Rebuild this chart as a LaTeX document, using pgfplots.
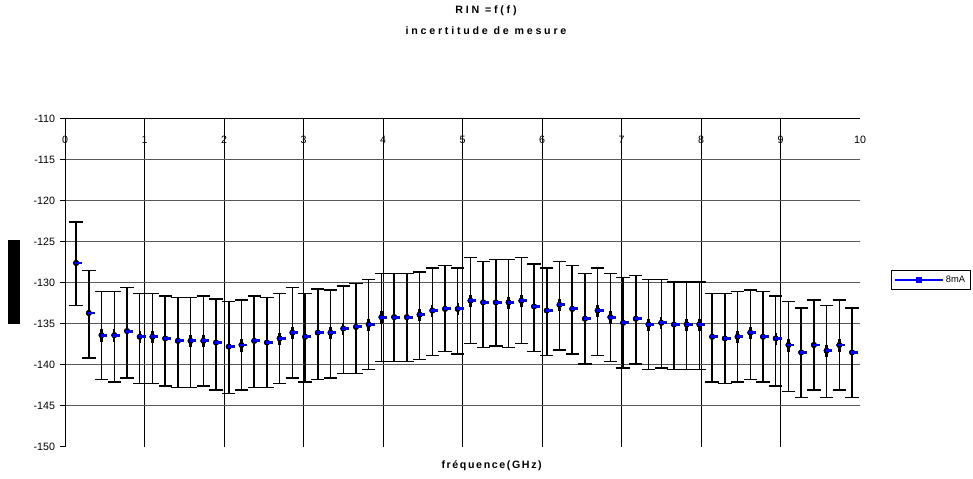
\documentclass[border=0pt]{standalone}
\usepackage{fontspec}
\setmainfont{Liberation Sans}
\newfontfamily\spaced[LetterSpace=15]{Liberation Sans}
\newfontfamily\wide[LetterSpace=26]{Liberation Sans}
\usepackage{pgfplots}
\usepackage{pgfplotstable}
\pgfplotsset{compat=1.18}

\pgfplotstableread{
x y top bot
0.14 -127.6 -122.6 -132.8
0.30 -133.7 -128.5 -139.2
0.46 -136.4 -131.1 -141.8
0.62 -136.4 -131.1 -142.1
0.78 -135.9 -130.6 -141.6
0.94 -136.6 -131.3 -142.3
1.10 -136.6 -131.3 -142.3
1.26 -136.8 -131.6 -142.6
1.42 -137.1 -131.8 -142.8
1.58 -137.1 -131.8 -142.8
1.74 -137.1 -131.6 -142.6
1.90 -137.3 -132.0 -143.1
2.06 -137.8 -132.3 -143.5
2.22 -137.6 -132.1 -143.1
2.38 -137.1 -131.6 -142.8
2.54 -137.3 -131.8 -142.8
2.70 -136.8 -131.3 -142.3
2.86 -136.1 -130.6 -141.6
3.02 -136.6 -131.3 -142.1
3.18 -136.1 -130.8 -141.8
3.34 -136.1 -130.9 -141.6
3.50 -135.6 -130.4 -141.1
3.66 -135.4 -130.1 -141.1
3.82 -135.1 -129.6 -140.6
3.98 -134.2 -128.9 -139.6
4.14 -134.2 -128.9 -139.6
4.30 -134.2 -128.9 -139.6
4.46 -133.9 -128.7 -139.4
4.62 -133.4 -128.2 -138.9
4.78 -133.2 -127.9 -138.4
4.94 -133.2 -128.2 -138.7
5.10 -132.2 -126.9 -137.4
5.26 -132.4 -127.4 -137.9
5.42 -132.4 -127.2 -137.7
5.58 -132.4 -127.2 -137.9
5.74 -132.2 -126.9 -137.4
5.90 -132.9 -127.7 -138.4
6.06 -133.4 -128.2 -138.9
6.22 -132.7 -127.4 -138.2
6.38 -133.2 -127.9 -138.7
6.54 -134.4 -128.9 -139.9
6.70 -133.4 -128.2 -138.9
6.86 -134.2 -128.9 -139.6
7.02 -134.9 -129.4 -140.4
7.18 -134.4 -129.1 -139.9
7.34 -135.1 -129.6 -140.6
7.50 -134.9 -129.6 -140.4
7.66 -135.1 -129.9 -140.6
7.82 -135.1 -129.9 -140.6
7.98 -135.1 -129.9 -140.6
8.14 -136.6 -131.3 -142.1
8.30 -136.8 -131.3 -142.3
8.46 -136.6 -131.1 -142.1
8.62 -136.1 -130.9 -141.8
8.78 -136.6 -131.1 -142.1
8.94 -136.8 -131.6 -142.6
9.10 -137.6 -132.3 -143.3
9.26 -138.5 -133.1 -144.0
9.42 -137.6 -132.1 -143.1
9.58 -138.3 -132.8 -144.0
9.74 -137.6 -132.1 -143.1
9.90 -138.5 -133.1 -144.0
}\rin

\begin{document}
\begin{tikzpicture}
\useasboundingbox (-48.75pt,-24.2pt) rectangle (681pt,335pt);
\begin{axis}[
  at={(0pt,0pt)}, anchor=south west,
  scale only axis, width=596.25pt, height=246pt,
  xmin=0, xmax=10, ymin=-150, ymax=-110,
  axis x line*=top, axis y line*=left,
  axis line style={black, line width=0.7pt},
  xtick={0,...,9}, extra x ticks={10}, extra x tick style={grid=none},
  ytick={-145,-140,...,-110}, extra y ticks={-150}, extra y tick style={grid=none},
  grid=major,
  x grid style={black, line width=0.6pt},
  y grid style={black!65, line width=0.7pt},
  xtick style={draw=none},
  ytick style={black, line width=0.6pt},
  tick align=outside, major tick length=4pt,
  /pgf/number format/assume math mode=true,
  tick label style={font=\fontsize{8}{9}\selectfont},
  xticklabel style={anchor=north, yshift=-13.75pt},
  legend style={at={(1.039,0.5386)}, anchor=north west, draw=black, line width=0.6pt,
    font=\fontsize{7}{8}\selectfont, inner xsep=2pt, inner ysep=2pt},
  legend image code/.code={
    \draw[blue, line width=0.9pt] (0pt,0pt) -- (36pt,0pt);
    \fill[blue] (16pt,-1.6pt) rectangle (20pt,1.6pt);
  },
]
% thick central segments
\addplot[black, only marks, mark=none, forget plot,
  error bars/.cd, y dir=both, y explicit, error mark=none,
  error bar style={line width=1.8pt, black}]
  table[x=x, y=y, y error plus expr=0.7, y error minus expr=0.8]{\rin};
% measurement uncertainty bars
\addplot[black, only marks, mark=none, forget plot,
  error bars/.cd, y dir=both, y explicit,
  error bar style={line width=1.1pt, black},
  error mark options={rotate=90, black, mark size=5pt, line width=1.1pt}]
  table[x=x, y=y, y error plus expr=\thisrow{top}-\thisrow{y},
        y error minus expr=\thisrow{y}-\thisrow{bot}]{\rin};
\addplot[only marks, mark=-, mark size=2.6pt,
  mark options={blue, line width=2.2pt, xshift=1.8pt}]
  table[x=x, y=y]{\rin};
\addlegendentry{8mA}
\end{axis}
\node[font=\fontsize{8}{9}\selectfont\wide\bfseries] at (315.75pt,326.8pt) {RIN =f(f)};
\node[font=\fontsize{8}{9}\selectfont\wide\bfseries] at (315.75pt,311.8pt) {incertitude de mesure};
\node[font=\fontsize{8}{9}\selectfont\spaced\bfseries] at (320pt,-14.5pt) {fréquence(GHz)};
\node[rotate=90, fill=black, text=black, minimum width=63pt, minimum height=9pt,
  inner sep=0pt, font=\fontsize{7}{8}\selectfont] at (-38.25pt,123.5pt) {RIN (dB/Hz)};
\end{tikzpicture}
\end{document}
